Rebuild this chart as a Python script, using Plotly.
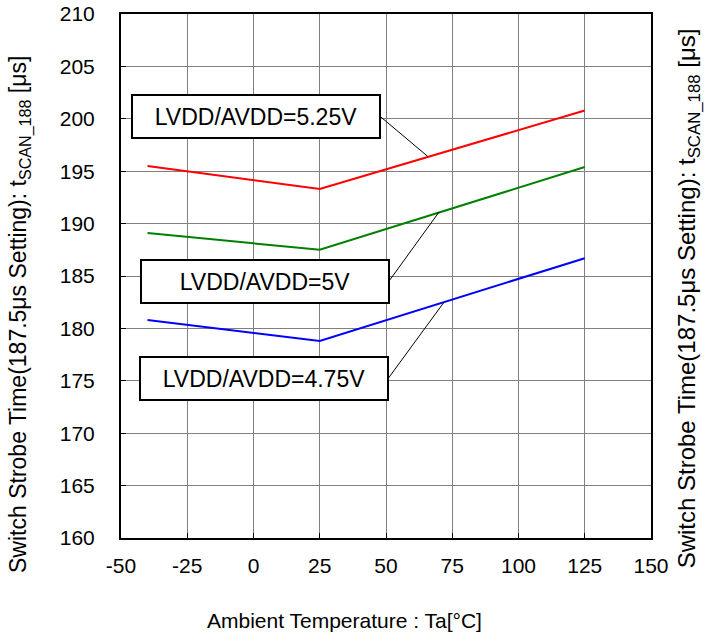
import plotly.graph_objects as go

# Datos
temps = [-40, 25, 125]
v525 = [195.5, 193.3, 200.8]
v500 = [189.1, 187.5, 195.4]
v475 = [180.8, 178.8, 186.7]

x_ticks = [-50, -25, 0, 25, 50, 75, 100, 125, 150]
x_ticktext = ["-50", "-25", "0", "25", "50", "75", "100", "125", "150"]
y_ticks = [160, 165, 170, 175, 180, 185, 190, 195, 200, 205, 210]

labels = ["LVDD/AVDD=5.25V", "LVDD/AVDD=5V", "LVDD/AVDD=4.75V"]
# centro de cada caja y punto de la curva al que apunta
box_x = [1.0, 4.3, 4.1]
box_y = [200.25, 184.5, 175.25]
box_edge_x = [47.7, 51.1, 50.9]
pt_x = [65.8, 70.0, 71.9]
pt_y = [196.4, 191.1, 182.5]

y_title = "Switch Strobe Time(187.5μs Setting): t<sub>SCAN_188</sub> [μs]"
x_title = "Ambient Temperature : Ta[°C]"
font = "Arial, Liberation Sans, sans-serif"

fig = go.Figure()
for ys, color in [(v525, "#ff0000"), (v500, "#008000"), (v475, "#0000ff")]:
    fig.add_trace(go.Scatter(x=temps, y=ys, mode="lines",
                             line=dict(color=color, width=2), showlegend=False))

axis_common = dict(showgrid=True, gridcolor="#808080", gridwidth=1,
                   showline=True, linecolor="black", linewidth=2, mirror=True,
                   ticks="inside", ticklen=5, tickcolor="black",
                   zeroline=False, automargin=False,
                   tickfont=dict(size=21, color="black"))

fig.update_layout(
    width=704, height=639,
    margin=dict(l=121, r=53, t=14, b=101),
    plot_bgcolor="white", paper_bgcolor="white",
    font=dict(family=font, color="black"),
    xaxis=dict(range=[-50, 150], tickvals=x_ticks, ticktext=x_ticktext,
               ticklabelstandoff=8, **axis_common),
    yaxis=dict(range=[160, 210], tickvals=y_ticks,
               ticklabelstandoff=20, **axis_common),
)

# títulos de ejes como anotaciones
title_pos = dict(xref="paper", yref="paper", xanchor="center", yanchor="middle",
                 showarrow=False)
fig.add_annotation(x=0.421, y=-0.1565, text=x_title, font=dict(size=21), **title_pos)
fig.add_annotation(x=-0.1906, y=0.4275, text=y_title, textangle=-90,
                   font=dict(size=23), **title_pos)
fig.add_annotation(x=1.0705, y=0.458, text=y_title, textangle=-90,
                   font=dict(size=24), **title_pos)

for i, lab in enumerate(labels):
    # línea de llamada
    fig.add_shape(type="line", x0=box_edge_x[i], y0=box_y[i], x1=pt_x[i], y1=pt_y[i],
                  line=dict(color="black", width=1))
    fig.add_annotation(x=box_x[i], y=box_y[i], text=lab, showarrow=False,
                       font=dict(size=23, color="black"), bgcolor="white",
                       bordercolor="black", borderwidth=2, borderpad=1,
                       width=244, height=39)

# quitar el margen del body para que la figura empiece en (0, 0)
fig.write_html("out.html", config={"displayModeBar": False},
               post_script="document.body.style.margin='0';")
